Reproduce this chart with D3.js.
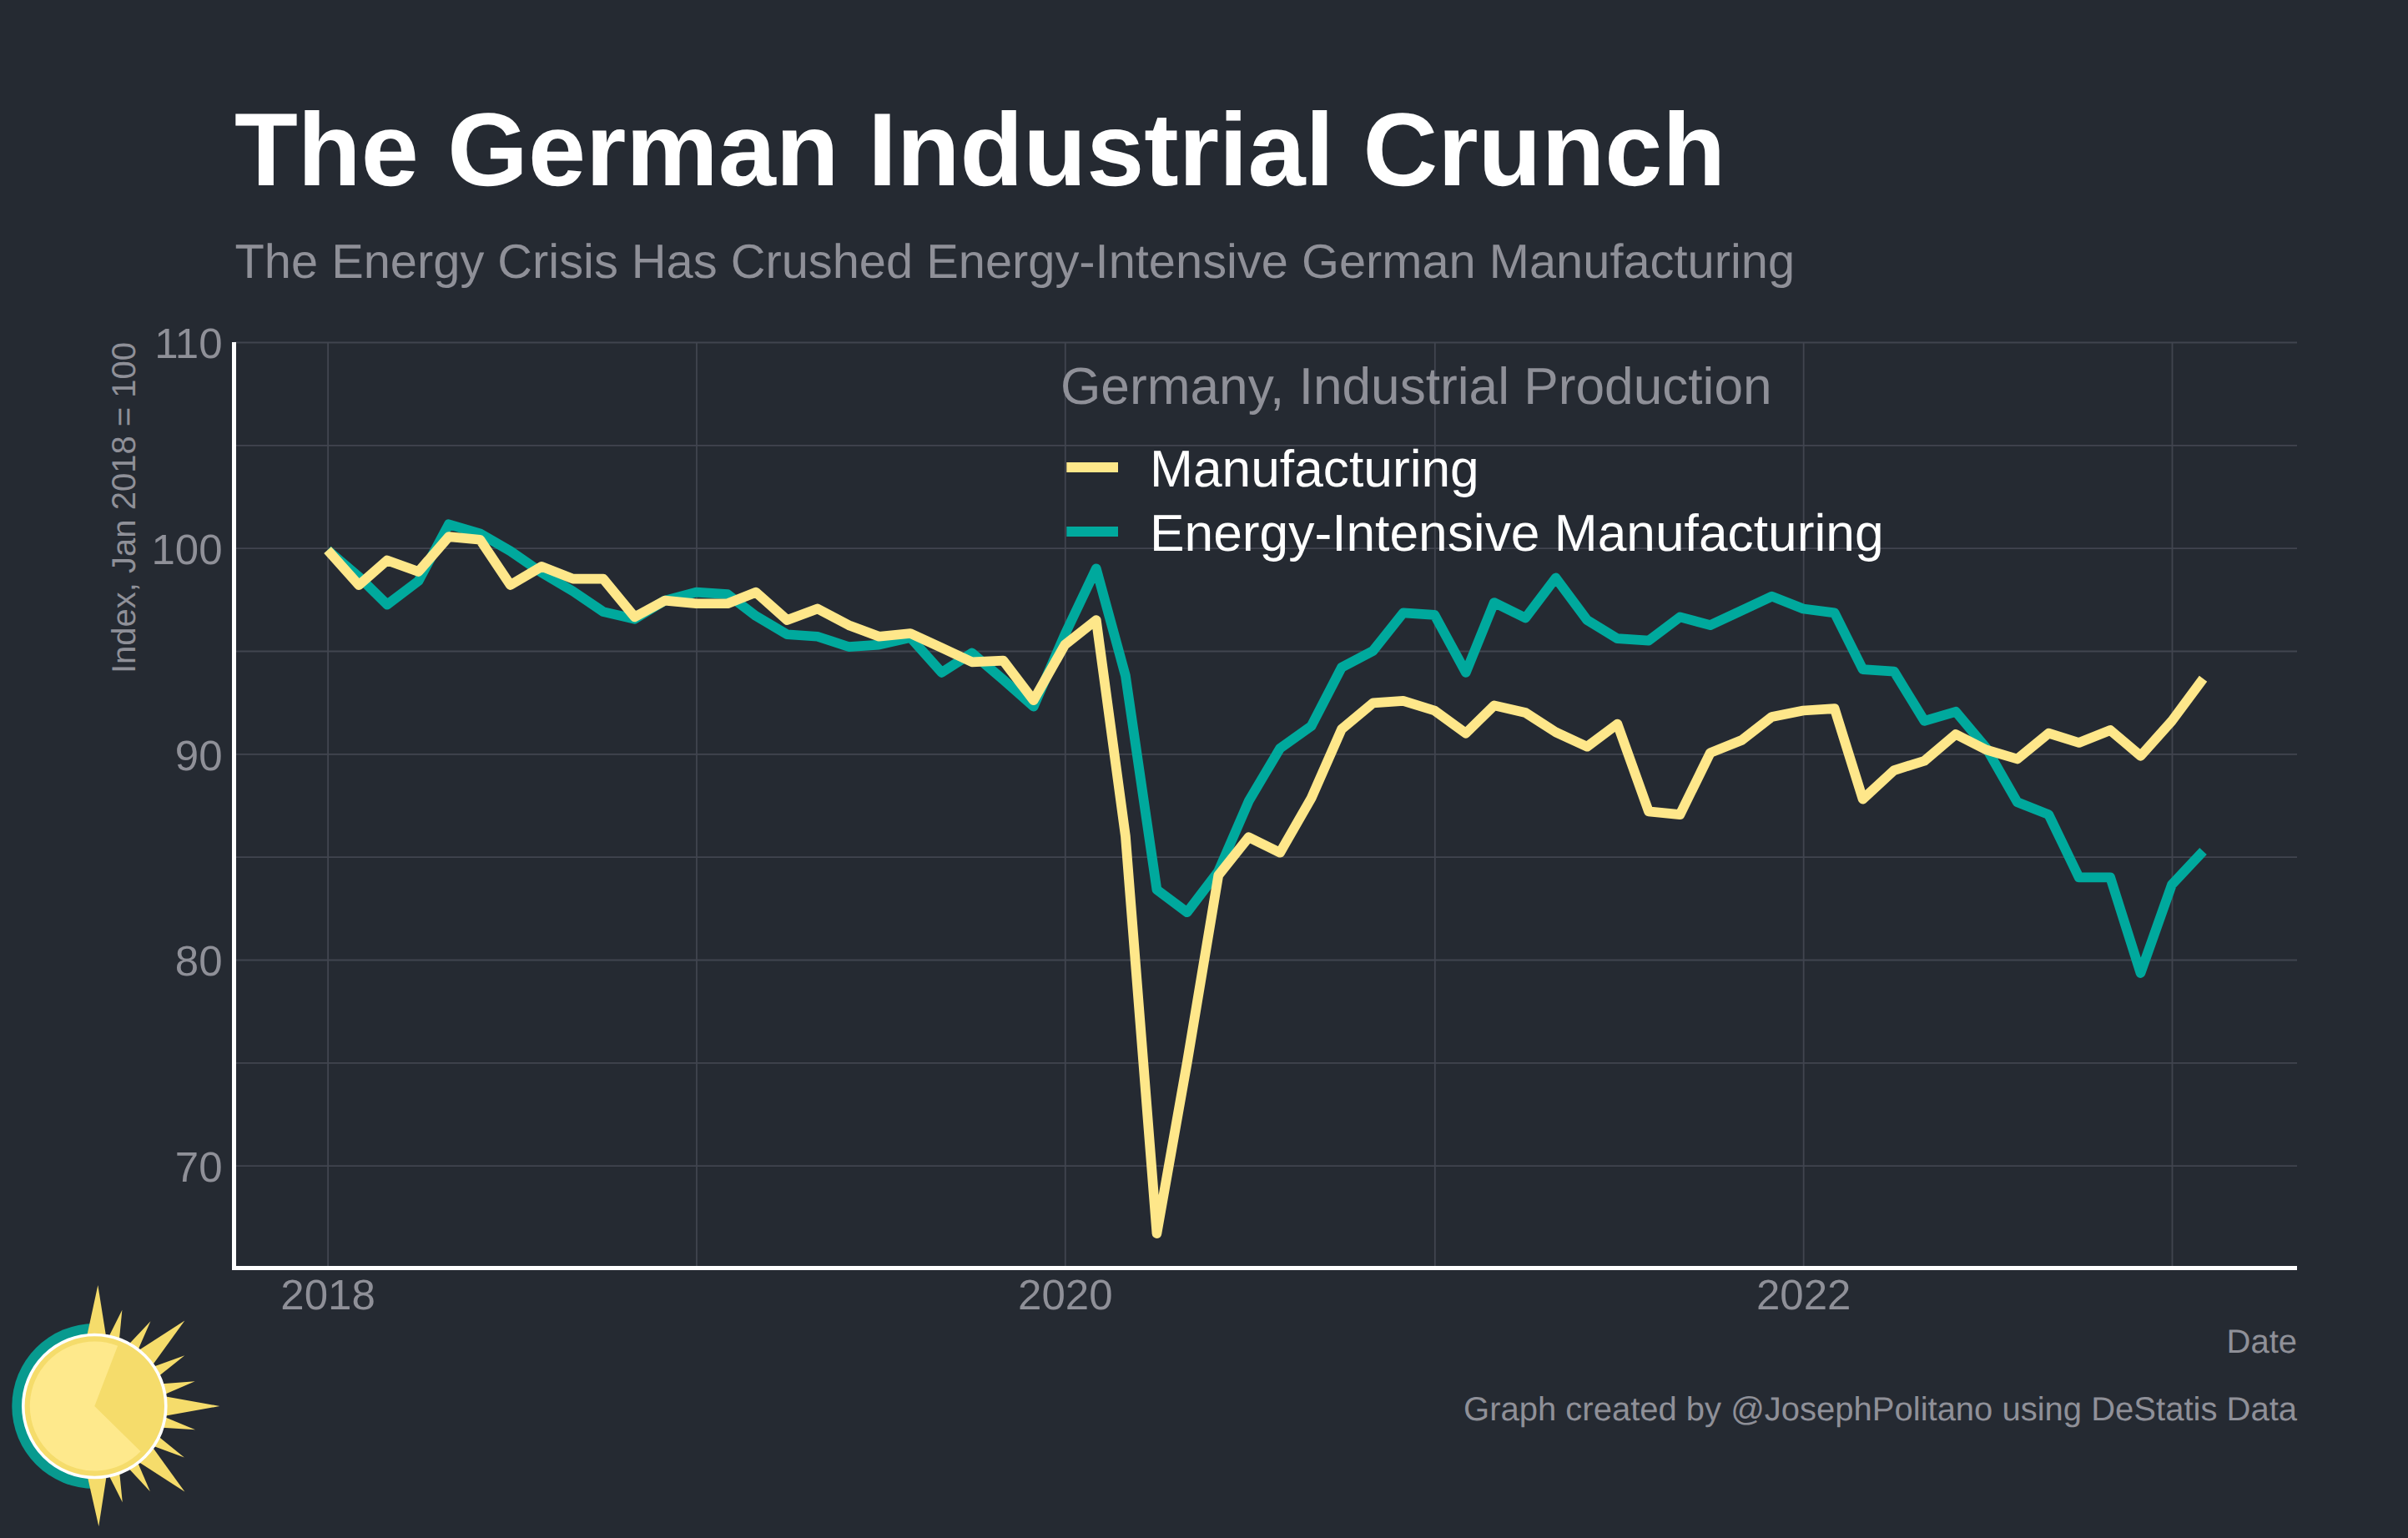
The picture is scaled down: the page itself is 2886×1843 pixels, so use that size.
<!DOCTYPE html>
<html>
<head>
<meta charset="utf-8">
<script src="https://cdn.jsdelivr.net/npm/d3@7"></script>
<style>
  html, body { margin: 0; padding: 0; background: #252a32; }
  svg { display: block; }
  text { font-family: "Liberation Sans", Arial, sans-serif; text-rendering: geometricPrecision; }
</style>
</head>
<body>
<div id="viz"></div>
<script>
// monthly, Jan 2018 - Feb 2023
const months = d3.timeMonth.range(new Date(2018, 0, 1), new Date(2023, 2, 1));

const manufacturing = [
  99.9, 98.2, 99.4, 98.85, 100.55, 100.4, 98.2, 99.1, 98.5, 98.5, 96.65, 97.45,
  97.3, 97.3, 97.85, 96.5, 97.05, 96.25, 95.7, 95.85, 95.15, 94.46, 94.53, 92.6,
  95.3, 96.5, 86, 66.7, 75, 84.1, 85.95, 85.2, 87.85, 91.2, 92.47, 92.57,
  92.1, 91.0, 92.35, 92.0, 91.05, 90.35, 91.45, 87.2, 87.05, 90.05, 90.66, 91.8,
  92.1, 92.2, 87.8, 89.2, 89.66, 90.95, 90.2, 89.75, 91, 90.54, 91.15, 89.9,
  91.6, 93.65
];
const energyIntensive = [
  99.9, 98.6, 97.25, 98.4, 101.15, 100.7, 99.85, 98.8, 97.9, 96.9, 96.55, 97.45,
  97.85, 97.75, 96.7, 95.8, 95.7, 95.2, 95.3, 95.65, 93.95, 94.9, 93.6, 92.3,
  95.8, 99, 93.8, 83.4, 82.3, 84.3, 87.7, 90.27, 91.35, 94.2, 95, 96.85,
  96.75, 93.95, 97.35, 96.6, 98.55, 96.5, 95.6, 95.5, 96.65, 96.25, 96.96, 97.65,
  97.05, 96.85, 94.1, 94, 91.6, 92.05, 90.3, 87.65, 87.05, 84, 84, 79.35,
  83.65, 85.27
];

const yTicks = d3.range(65, 111, 5);
const yLabels = [70, 80, 90, 100, 110];
const xTicks = [2018, 2019, 2020, 2021, 2022, 2023].map(y => new Date(y, 0, 1));
const xLabels = [2018, 2020, 2022];

// sun logo: [angle from north, tip radius, half width of the base in degrees]
const sunRays = [
  [1.6, 145, 7.7], [16, 120, 4.4], [33.4, 122, 4.4], [46.5, 149, 8.2], [60.6, 124, 4.4],
  [76.1, 124, 4.4], [90, 150, 8], [103.2, 124, 4.4], [119.8, 124, 4.4], [133.5, 149, 8.2],
  [146.9, 122, 4.4], [163.8, 120, 4.4], [178, 144, 7.7]
];

const width = 2886, height = 1843;
const bg = "#252a32", grey = "#8f9098", gridColor = "#41454f";
const teal = "#00a99d", yellow = "#fee78a";

const svg = d3.select("#viz")
  .append("svg")
  .attr("width", width)
  .attr("height", height);

svg.append("rect").attr("width", width).attr("height", height).attr("fill", bg);

const panel = { left: 280.5, right: 2753, top: 410, bottom: 1520 };

const x = d3.scaleTime()
  .domain([new Date(2018, 0, 1), new Date(2023, 0, 1)])
  .range([392.6, 2603]);

const y = d3.scaleLinear()
  .domain([65, 110])
  .range([panel.bottom, panel.top]);

// grid + tick labels
const yAxis = svg.append("g")
  .attr("transform", `translate(${panel.left},0)`)
  .call(d3.axisLeft(y)
    .tickValues(yTicks)
    .tickSize(-(panel.right - panel.left))
    .tickPadding(14)
    .tickFormat(d => yLabels.includes(d) ? d : ""));
yAxis.select(".domain").remove();
yAxis.selectAll("line").attr("stroke", gridColor).attr("stroke-width", 1.8);
yAxis.selectAll("text").attr("fill", grey).attr("font-size", 51).attr("dy", ".37em");

const xAxis = svg.append("g")
  .attr("transform", `translate(0,${panel.bottom})`)
  .call(d3.axisBottom(x)
    .tickValues(xTicks)
    .tickSize(-(panel.bottom - panel.top))
    .tickPadding(13)
    .tickFormat(d => xLabels.includes(d.getFullYear()) ? d.getFullYear() : ""));
xAxis.select(".domain").remove();
xAxis.selectAll("line").attr("stroke", gridColor).attr("stroke-width", 1.8);
xAxis.selectAll("text").attr("fill", grey).attr("font-size", 51);

// white axis lines
svg.append("line")
  .attr("x1", panel.left).attr("x2", panel.left)
  .attr("y1", panel.top).attr("y2", panel.bottom + 2)
  .attr("stroke", "#fff").attr("stroke-width", 5);
svg.append("line")
  .attr("x1", panel.left - 2.5).attr("x2", panel.right)
  .attr("y1", panel.bottom - 0.5).attr("y2", panel.bottom - 0.5)
  .attr("stroke", "#fff").attr("stroke-width", 5);

// series
const line = d3.line()
  .x((d, i) => x(months[i]))
  .y(d => y(d));

[[energyIntensive, teal], [manufacturing, yellow]].forEach(([values, color]) => {
  svg.append("path")
    .attr("d", line(values))
    .attr("fill", "none")
    .attr("stroke", color)
    .attr("stroke-width", 11.7)
    .attr("stroke-linejoin", "round")
    .attr("stroke-linecap", "butt");
});

// titles
svg.append("text").attr("x", 281).attr("y", 222)
  .attr("font-size", 124.2).attr("font-weight", 700).attr("fill", "#fff")
  .text("The German Industrial Crunch");
svg.append("text").attr("x", 281.5).attr("y", 332.5)
  .attr("font-size", 57.8).attr("fill", grey)
  .text("The Energy Crisis Has Crushed Energy-Intensive German Manufacturing");

svg.append("text")
  .attr("transform", `translate(162,${panel.top}) rotate(-90)`)
  .attr("text-anchor", "end")
  .attr("font-size", 40).attr("fill", grey)
  .text("Index, Jan 2018 = 100");

svg.append("text").attr("x", panel.right).attr("y", 1621)
  .attr("text-anchor", "end").attr("font-size", 40).attr("fill", grey)
  .text("Date");
svg.append("text").attr("x", panel.right).attr("y", 1701.5)
  .attr("text-anchor", "end").attr("font-size", 40).attr("fill", grey)
  .text("Graph created by @JosephPolitano using DeStatis Data");

// legend
svg.append("text").attr("x", 1271).attr("y", 484)
  .attr("font-size", 62.2).attr("fill", grey)
  .text("Germany, Industrial Production");

[["Manufacturing", yellow, 560], ["Energy-Intensive Manufacturing", teal, 637]].forEach(([label, color, ly]) => {
  svg.append("line")
    .attr("x1", 1278.3).attr("x2", 1340)
    .attr("y1", ly).attr("y2", ly)
    .attr("stroke", color).attr("stroke-width", 12);
  svg.append("text").attr("x", 1378).attr("y", ly + 23)
    .attr("font-size", 62.3).attr("fill", "#fff")
    .text(label);
});

// sun logo
const logo = svg.append("g").attr("transform", "translate(113.3,1685)");
const rad = d => d * Math.PI / 180;

logo.append("path")
  .attr("d", d3.arc()({ innerRadius: 0, outerRadius: 99, startAngle: Math.PI, endAngle: 2 * Math.PI }))
  .attr("fill", "#089a8f");

logo.selectAll("polygon")
  .data(sunRays)
  .enter()
  .append("polygon")
  .attr("points", d => [
    d3.pointRadial(rad(d[0] - d[2]), 85),
    d3.pointRadial(rad(d[0]), d[1]),
    d3.pointRadial(rad(d[0] + d[2]), 85)
  ].join(" "))
  .attr("fill", "#f5dc6b");

logo.append("circle").attr("r", 85.5)
  .attr("fill", "#f5dc6b").attr("stroke", "#fff").attr("stroke-width", 3.6);

logo.append("path")
  .attr("d", d3.arc()({ innerRadius: 0, outerRadius: 77.5, startAngle: rad(134.5), endAngle: rad(381) }))
  .attr("fill", "#fee98c");
</script>
</body>
</html>
